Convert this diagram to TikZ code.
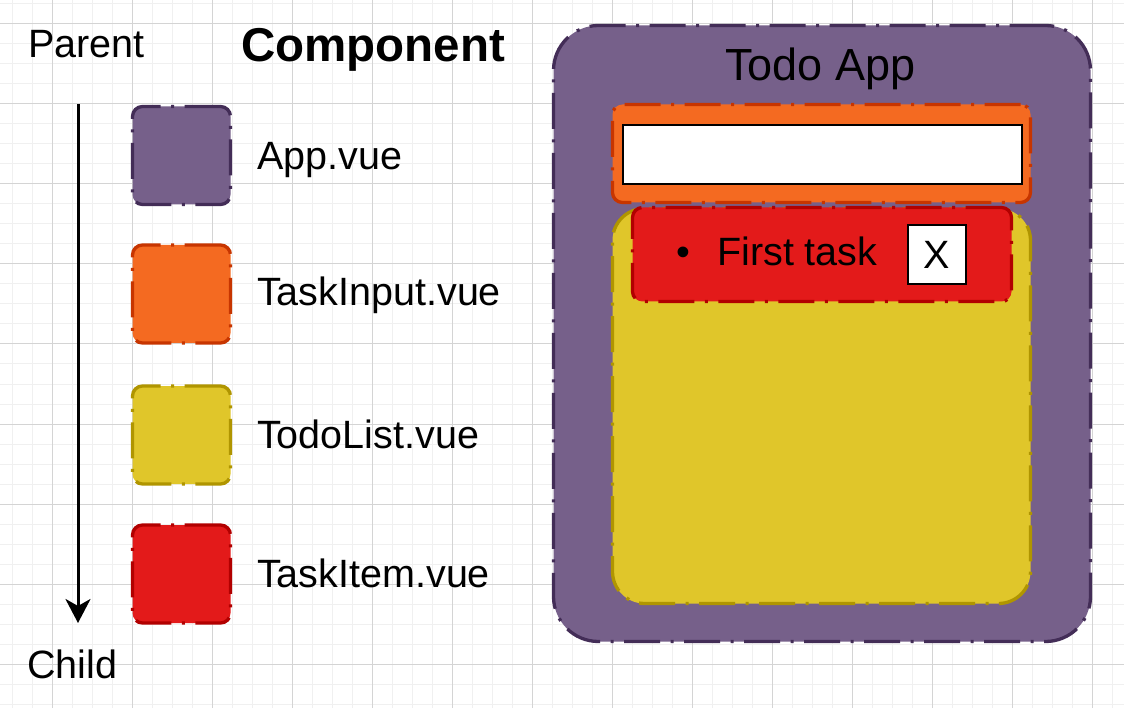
\documentclass[tikz,border=0pt]{standalone}
\usepackage{fontspec}
\setmainfont{Liberation Sans}
\usetikzlibrary{arrows.meta}
\definecolor{purpleF}{HTML}{76608A}
\definecolor{purpleS}{HTML}{432D57}
\definecolor{orangeF}{HTML}{F46A21}
\definecolor{orangeS}{HTML}{C73500}
\definecolor{yellowF}{HTML}{E0C62A}
\definecolor{yellowS}{HTML}{B09500}
\definecolor{redF}{HTML}{E31A1A}
\definecolor{redS}{HTML}{B20000}
\definecolor{gridminor}{HTML}{F0F0F0}
\definecolor{gridmajor}{HTML}{D4D4D4}
\begin{document}
\begin{tikzpicture}[x=1pt,y=-1pt,
  comp/.style={draw, line width=3.3pt, dash pattern=on 36pt off 10.5pt on 3pt off 10.5pt,
    rounded corners=10pt, inner sep=0pt, outer sep=0pt},
  legsq/.style={comp, minimum width=98pt, minimum height=98pt},
  purplebox/.style={fill=purpleF, draw=purpleS},
  orangebox/.style={fill=orangeF, draw=orangeS},
  yellowbox/.style={fill=yellowF, draw=yellowS},
  redbox/.style={fill=redF, draw=redS},
  lbl/.style={anchor=base west, inner sep=0pt, font=\fontsize{39.5}{44}\selectfont},
  whitebox/.style={draw=black, fill=white, line width=2pt, inner sep=0pt, outer sep=0pt},
  hierarrow/.style={line width=3pt, -{Stealth[length=24pt, width=25pt, inset=7pt]}}
]
% background and grid
\fill[white] (0,0) rectangle (1124,708);
\useasboundingbox (0,0) rectangle (1124,708);
\foreach \x in {12,32,...,1112} \draw[gridminor, line width=1pt] (\x,0) -- (\x,708);
\foreach \y in {4,24,...,704} \draw[gridminor, line width=1pt] (0,\y) -- (1124,\y);
\foreach \x in {52,132,...,1092} \draw[gridmajor, line width=1pt] (\x,0) -- (\x,708);
\foreach \y in {24,104,...,664} \draw[gridmajor, line width=1pt] (0,\y) -- (1124,\y);

% hierarchy arrow
\node[lbl] (parent) at (28,58) {Parent};
\node[lbl] (child) at (27,678) {Child};
\coordinate (atop) at (78,104);
\coordinate (abot) at (78,623);
\draw[hierarrow] (atop) -- (abot);

% legend
\node[lbl, font=\fontsize{47.5}{52}\selectfont\bfseries] (comptitle) at (241,62) {Component};
\node[legsq, purplebox] (lapp) at (181.5,155.5) {};
\node[legsq, orangebox] (linput) at (181.5,294) {};
\node[legsq, yellowbox] (llist) at (181.5,435) {};
\node[legsq, redbox] (litem) at (181.5,574) {};
\node[lbl] (tapp) at (257,170) {App.vue};
\node[lbl] (tinput) at (257,306) {TaskInput.vue};
\node[lbl] (tlist) at (257,448) {TodoList.vue};
\node[lbl] (titem) at (257,587) {TaskItem.vue};

% app mockup
\node[comp, purplebox, rounded corners=45pt, minimum width=537pt, minimum height=616pt] (app) at (822,333.5) {};
\node[lbl, font=\fontsize{45}{50}\selectfont] (apptitle) at (725,81) {Todo App};
\node[comp, yellowbox, rounded corners=32pt, minimum width=418pt, minimum height=395pt] (list) at (821.5,406) {};
\node[comp, orangebox, minimum width=418pt, minimum height=98pt] (input) at (821.5,153.5) {};
\node[whitebox, minimum width=399pt, minimum height=59pt] (field) at (822.5,154.5) {};
\node[comp, redbox, minimum width=379pt, minimum height=94pt] (item) at (822,254.5) {};
\node[lbl] (bullet) at (676,266) {•};
\node[lbl] (task) at (717,266) {First task};
\node[whitebox, minimum width=58pt, minimum height=59pt, font=\fontsize{39.5}{44}\selectfont] (xbtn) at (937,254.5) {X};
\end{tikzpicture}
\end{document}
